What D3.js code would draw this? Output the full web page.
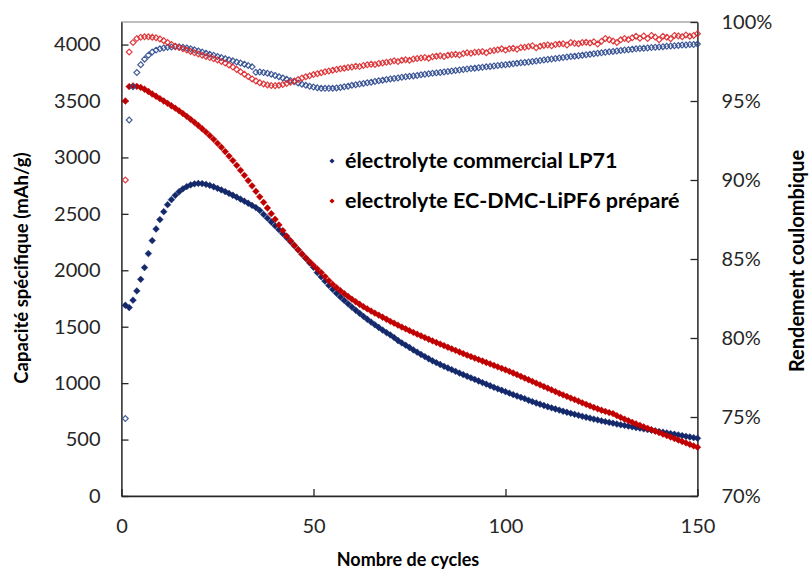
<!DOCTYPE html>
<html><head><meta charset="utf-8">
<script src="https://cdn.jsdelivr.net/npm/d3@7"></script>
<style>
body{margin:0;background:#fff}
svg{display:block}
text{font-family:Lato,"Open Sans",sans-serif}
</style>
</head><body>
<svg id="c" width="810" height="569"></svg>
<script>
// ---- data ----
const cycles = d3.range(1, 151);
const capLP71 = [
1690,1670,1735,1817,1920,2024,2148,2263,2366,2449,
2519,2581,2626,2664,2696,2722,2742,2756,2766,2770,
2768,2762,2752,2740,2726,2712,2697,2681,2665,2648,
2630,2612,2594,2575,2556,2530,2495,2462,2428,2394,
2360,2325,2290,2254,2218,2181,2143,2105,2066,2027,
1980,1942,1904,1866,1830,1796,1764,1733,1703,1674,
1646,1619,1592,1566,1541,1517,1493,1470,1448,1427,
1404,1378,1356,1336,1316,1294,1274,1254,1235,1216,
1198,1181,1165,1149,1134,1119,1104,1089,1075,1061,
1047,1033,1019,1005,991,977,963,950,937,924,
911,898,886,874,862,848,836,824,813,802,
791,781,771,761,751,742,733,724,715,706,
698,690,682,674,666,659,652,645,638,631,
625,619,613,607,601,595,589,583,577,571,
565,559,553,547,541,535,529,523,517,511];
const capPrep = [
3500,3628,3634,3630,3620,3604,3584,3562,3542,3521,
3500,3479,3458,3436,3413,3389,3364,3338,3311,3283,
3254,3225,3193,3160,3125,3090,3052,3012,2972,2930,
2886,2841,2795,2748,2700,2651,2602,2552,2502,2452,
2402,2352,2303,2262,2222,2183,2145,2110,2076,2043,
2011,1980,1944,1908,1875,1846,1819,1793,1768,1744,
1721,1699,1678,1658,1639,1620,1602,1584,1566,1548,
1531,1514,1497,1481,1465,1449,1434,1419,1404,1389,
1374,1360,1346,1332,1318,1304,1290,1276,1262,1248,
1235,1222,1209,1196,1183,1170,1157,1144,1131,1118,
1104,1090,1075,1060,1045,1030,1015,1000,985,970,
955,940,925,910,896,882,868,854,840,826,
812,798,785,772,760,749,739,730,712,696,
681,667,653,639,626,613,600,587,574,561,
548,535,522,509,496,483,470,457,444,432];
const effLP71 = [
74.9,93.8,95.9,96.8,97.3,97.65,97.9,98.1,98.22,98.3,
98.36,98.4,98.42,98.44,98.43,98.4,98.36,98.31,98.24,98.17,
98.1,98.03,97.96,97.89,97.82,97.75,97.68,97.61,97.54,97.47,
97.4,97.33,97.25,97.16,96.82,96.84,96.8,96.75,96.69,96.62,
96.54,96.46,96.38,96.3,96.22,96.14,96.06,95.99,95.93,95.88,
95.84,95.81,95.8,95.8,95.81,95.83,95.86,95.9,95.94,95.99,
96.03,96.07,96.11,96.15,96.19,96.24,96.28,96.32,96.36,96.4,
96.43,96.46,96.5,96.53,96.56,96.59,96.62,96.66,96.69,96.72,
96.75,96.78,96.81,96.84,96.87,96.9,96.93,96.96,96.99,97.02,
97.05,97.08,97.11,97.13,97.16,97.19,97.22,97.25,97.28,97.3,
97.33,97.36,97.39,97.42,97.44,97.47,97.5,97.53,97.56,97.6,
97.63,97.66,97.69,97.72,97.75,97.78,97.81,97.84,97.87,97.9,
97.93,97.96,97.99,98.02,98.05,98.08,98.11,98.14,98.17,98.2,
98.23,98.25,98.28,98.3,98.32,98.34,98.36,98.38,98.4,98.42,
98.44,98.46,98.48,98.5,98.52,98.54,98.55,98.57,98.58,98.6];
const effPrep = [
90.0,98.1,98.7,98.95,99.03,99.06,99.06,99.04,99.0,98.93,
98.82,98.7,98.58,98.47,98.38,98.3,98.22,98.14,98.05,97.97,
97.89,97.82,97.75,97.68,97.6,97.5,97.4,97.28,97.15,97.0,
96.85,96.7,96.55,96.4,96.27,96.16,96.08,96.02,95.98,95.97,
96.0,96.04,96.1,96.18,96.27,96.36,96.45,96.53,96.6,96.67,
96.73,96.79,96.85,96.9,96.95,97.0,97.04,97.08,97.12,97.15,
97.2,97.18,97.25,97.29,97.33,97.31,97.38,97.41,97.45,97.49,
97.54,97.5,97.58,97.61,97.58,97.66,97.69,97.72,97.75,97.71,
97.8,97.84,97.86,97.82,97.9,97.93,97.96,97.91,98.0,98.05,
98.02,98.08,98.1,98.13,98.06,98.16,98.2,98.24,98.3,98.22,
98.3,98.34,98.27,98.38,98.4,98.45,98.5,98.37,98.47,98.52,
98.55,98.49,98.58,98.6,98.62,98.54,98.7,98.65,98.63,98.7,
98.72,98.67,98.75,98.6,98.78,98.95,98.88,98.8,98.7,98.87,
98.95,98.89,99.0,99.1,98.97,99.12,98.95,99.15,99.05,98.88,
99.1,99.04,98.94,99.15,99.12,99.07,99.18,99.1,99.15,99.26];
const xTicks = [0, 50, 100, 150];
const yLTicks = [0, 500, 1000, 1500, 2000, 2500, 3000, 3500, 4000];
const yRTicks = [70, 75, 80, 85, 90, 95, 100];
const legendLabels = ["électrolyte commercial LP71", "electrolyte EC-DMC-LiPF6 préparé"];
const titles = {x: "Nombre de cycles", yL: "Capacité spécifique (mAh/g)", yR: "Rendement coulombique"};

// ---- drawing ----
const L = 121.5, R = 697.5, T = 22, B = 496;
const svg = d3.select("#c");
const x = d3.scaleLinear().domain([0, 150]).range([L, R]);
const yL = d3.scaleLinear().domain([0, 4200]).range([B, T]);
const yR = d3.scaleLinear().domain([70, 100]).range([B, T]);

const C = {blueF: "#13296b", blueO: "#2d4a8e", redF: "#c00000", redO: "#dc2a2e", axis: "#262626", txt: "#262626"};

svg.append("rect").attr("x", L).attr("y", T).attr("width", R - L).attr("height", B - T)
  .attr("fill", "none").attr("stroke", "#7f7f7f").attr("stroke-width", 1);

function styleAxis(g) {
  g.select(".domain").attr("stroke", C.axis).attr("stroke-width", 1.3);
  g.selectAll(".tick line").attr("stroke", C.axis).attr("stroke-width", 1.3);
  g.selectAll(".tick text").attr("fill", C.txt).style("font-size", "20px").style("font-family", "Lato");
}
svg.append("g").attr("transform", `translate(${L},0)`)
  .call(d3.axisLeft(yL).tickValues(yLTicks).tickSize(-7).tickPadding(21).tickSizeOuter(0).tickFormat(d3.format("d"))).call(styleAxis);
svg.append("g").attr("transform", `translate(${R},0)`)
  .call(d3.axisRight(yR).tickValues(yRTicks).tickSize(-7).tickPadding(24).tickSizeOuter(0).tickFormat(d => d + "%")).call(styleAxis);
svg.append("g").attr("transform", `translate(0,${B})`)
  .call(d3.axisBottom(x).tickValues(xTicks).tickSize(-7).tickPadding(23).tickSizeOuter(0).tickFormat(d3.format("d"))).call(styleAxis);

const diamond = r => `M0,${-r}L${r},0L0,${r}L${-r},0Z`;

function openSeries(vals, col) {
  svg.append("g").selectAll("path").data(vals).join("path")
    .attr("d", diamond(2.9))
    .attr("transform", (d, i) => `translate(${x(cycles[i])},${yR(d)})`)
    .attr("fill", "none").attr("stroke", col).attr("stroke-width", 1.2).attr("stroke-opacity", 0.9);
}
function filledSeries(vals, col) {
  svg.append("g").selectAll("path").data(vals).join("path")
    .attr("d", diamond(3.4))
    .attr("transform", (d, i) => `translate(${x(cycles[i])},${yL(d)})`)
    .attr("fill", col).attr("stroke", col).attr("stroke-width", 0.8).attr("stroke-opacity", 0.5);
}
filledSeries(capLP71, C.blueF);
filledSeries(capPrep, C.redF);
openSeries(effLP71, C.blueO);
openSeries(effPrep, C.redO);

// legend
const leg = svg.append("g");
[[C.blueF, 161], [C.redF, 201]].forEach(([col, cy], i) => {
  leg.append("path").attr("d", diamond(2.6)).attr("transform", `translate(332,${cy})`).attr("fill", col);
  leg.append("text").attr("x", 345).attr("y", cy + 7).attr("font-size", 21.5).attr("font-weight", 700)
    .attr("fill", "#000").text(legendLabels[i]);
});

// titles
svg.append("text").attr("transform", "translate(28,268) rotate(-90)").attr("text-anchor", "middle")
  .attr("font-size", 18.5).attr("font-weight", 700).attr("fill", "#000").text(titles.yL);
svg.append("text").attr("transform", "translate(804,261) rotate(-90)").attr("text-anchor", "middle")
  .attr("font-size", 20).attr("font-weight", 700).attr("fill", "#000").text(titles.yR);
svg.append("text").attr("x", 408).attr("y", 566).attr("text-anchor", "middle")
  .attr("font-size", 18).attr("font-weight", 700).attr("fill", "#000").text(titles.x);
</script>
</body></html>
